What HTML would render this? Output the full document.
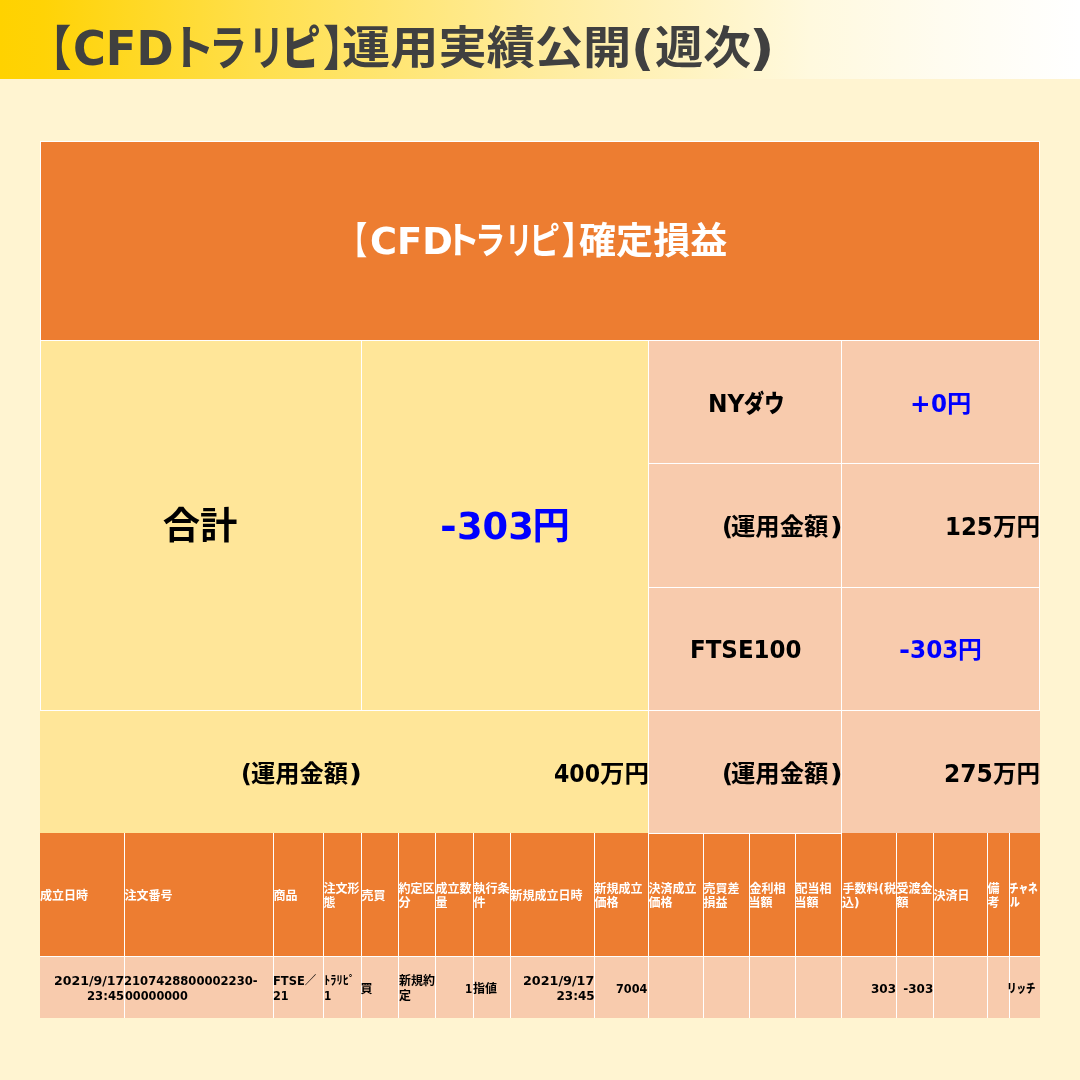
<!DOCTYPE html>
<html lang="ja">
<head>
<meta charset="utf-8">
<title>【CFDトラリピ】運用実績公開(週次)</title>
<style>
html,body{margin:0;padding:0;}
body{width:1080px;height:1080px;overflow:hidden;background:#FFF4D1;position:relative;
  font-family:"DejaVu Sans","Liberation Sans","Noto Sans CJK JP",sans-serif;font-weight:bold;color:#000;}
.abs{position:absolute;}
.hdr{left:0;top:0;width:1080px;height:79px;background:linear-gradient(90deg,#FFD200 0%,#FFD306 4%,#FFE050 25%,#FFEC9D 50%,#FFF9DE 75%,#FFFCF0 87.5%,#FFFFFF 100%);}
.grid{left:40px;top:141px;width:1000px;height:877px;background:#FFFFFF;}
.c{position:absolute;}
.or{background:#ED7D31;}
.ye{background:#FFE699;}
.pk{background:#F8CBAD;}
.t{position:absolute;white-space:nowrap;transform-origin:0 0;}
.f48{font-size:48px;line-height:64px;color:#404040;}
.f37{font-size:37.33px;line-height:50px;}
.f24{font-size:24px;line-height:32px;}
.f12{font-size:12px;line-height:14px;}
.blue{color:#0000FF;}
.w{color:#FFFFFF;}
.k9{font-weight:900;}
.f45{font-size:45px;}
</style>
</head>
<body>
<div class="abs hdr"></div>
<div class="abs grid"></div>

<div class="c or" style="left:41px;top:142px;width:998px;height:198px;"></div>
<div class="c ye" style="left:41px;top:341px;width:320px;height:369px;"></div>
<div class="c ye" style="left:362px;top:341px;width:286px;height:369px;"></div>
<div class="c ye" style="left:40px;top:711px;width:608px;height:122px;"></div>
<div class="c pk" style="left:649px;top:341px;width:192px;height:122px;"></div>
<div class="c pk" style="left:842px;top:341px;width:197px;height:122px;"></div>
<div class="c pk" style="left:649px;top:464px;width:192px;height:123px;"></div>
<div class="c pk" style="left:842px;top:464px;width:197px;height:123px;"></div>
<div class="c pk" style="left:649px;top:588px;width:192px;height:122px;"></div>
<div class="c pk" style="left:842px;top:588px;width:197px;height:122px;"></div>
<div class="c pk" style="left:649px;top:711px;width:192px;height:122px;"></div>
<div class="c pk" style="left:842px;top:711px;width:198px;height:122px;"></div>
<div class="c or" style="left:40px;top:833px;width:84px;height:123px;"></div>
<div class="c pk" style="left:40px;top:957px;width:84px;height:61px;"></div>
<div class="c or" style="left:125px;top:833px;width:148px;height:123px;"></div>
<div class="c pk" style="left:125px;top:957px;width:148px;height:61px;"></div>
<div class="c or" style="left:274px;top:833px;width:49px;height:123px;"></div>
<div class="c pk" style="left:274px;top:957px;width:49px;height:61px;"></div>
<div class="c or" style="left:324px;top:833px;width:37px;height:123px;"></div>
<div class="c pk" style="left:324px;top:957px;width:37px;height:61px;"></div>
<div class="c or" style="left:362px;top:833px;width:36px;height:123px;"></div>
<div class="c pk" style="left:362px;top:957px;width:36px;height:61px;"></div>
<div class="c or" style="left:399px;top:833px;width:36px;height:123px;"></div>
<div class="c pk" style="left:399px;top:957px;width:36px;height:61px;"></div>
<div class="c or" style="left:436px;top:833px;width:37px;height:123px;"></div>
<div class="c pk" style="left:436px;top:957px;width:37px;height:61px;"></div>
<div class="c or" style="left:474px;top:833px;width:36px;height:123px;"></div>
<div class="c pk" style="left:474px;top:957px;width:36px;height:61px;"></div>
<div class="c or" style="left:511px;top:833px;width:83px;height:123px;"></div>
<div class="c pk" style="left:511px;top:957px;width:83px;height:61px;"></div>
<div class="c or" style="left:595px;top:833px;width:53px;height:123px;"></div>
<div class="c pk" style="left:595px;top:957px;width:53px;height:61px;"></div>
<div class="c or" style="left:649px;top:834px;width:54px;height:122px;"></div>
<div class="c pk" style="left:649px;top:957px;width:54px;height:61px;"></div>
<div class="c or" style="left:704px;top:834px;width:45px;height:122px;"></div>
<div class="c pk" style="left:704px;top:957px;width:45px;height:61px;"></div>
<div class="c or" style="left:750px;top:834px;width:45px;height:122px;"></div>
<div class="c pk" style="left:750px;top:957px;width:45px;height:61px;"></div>
<div class="c or" style="left:796px;top:834px;width:45px;height:122px;"></div>
<div class="c pk" style="left:796px;top:957px;width:45px;height:61px;"></div>
<div class="c or" style="left:842px;top:833px;width:54px;height:123px;"></div>
<div class="c pk" style="left:842px;top:957px;width:54px;height:61px;"></div>
<div class="c or" style="left:897px;top:833px;width:36px;height:123px;"></div>
<div class="c pk" style="left:897px;top:957px;width:36px;height:61px;"></div>
<div class="c or" style="left:934px;top:833px;width:53px;height:123px;"></div>
<div class="c pk" style="left:934px;top:957px;width:53px;height:61px;"></div>
<div class="c or" style="left:988px;top:833px;width:21px;height:123px;"></div>
<div class="c pk" style="left:988px;top:957px;width:21px;height:61px;"></div>
<div class="c or" style="left:1010px;top:833px;width:30px;height:123px;"></div>
<div class="c pk" style="left:1010px;top:957px;width:30px;height:61px;"></div>
<div class="ln"><span id="t1" class="t f48" style="left:28.74px;top:16.20px;transform:scaleX(0.8817);">【</span><span id="t2" class="t f48" style="left:73.14px;top:16.20px;transform:scaleX(0.9320);">CFD</span><span id="t3a" class="t f48" style="left:168.56px;top:16.20px;transform:scaleX(0.9630);">ト</span><span id="t3b" class="t f48" style="left:208.80px;top:16.20px;transform:scaleX(0.7949);">ラ</span><span id="t3c" class="t f48" style="left:247.67px;top:16.20px;transform:scaleX(0.7659);">リ</span><span id="t3d" class="t f48 k9" style="left:280.78px;top:16.20px;transform:scaleX(0.8260);">ピ</span><span id="t4" class="t f48" style="left:323.13px;top:16.20px;transform:scaleX(0.8667);">】</span><span id="t5" class="t f48 f45" style="left:342.45px;top:16.60px;transform:scaleX(1.0714);">運用実績公開</span><span id="t6" class="t f48" style="left:631.22px;top:16.20px;transform:scaleX(1.0591);">(</span><span id="t7" class="t f48 f45" style="left:655.44px;top:16.60px;transform:scaleX(1.0682);">週次</span><span id="t8" class="t f48" style="left:748.85px;top:16.20px;transform:scaleX(1.1717);">)</span></div>
<div class="ln"><span id="b1" class="t f37 w" style="left:339.47px;top:216.00px;transform:scaleX(0.7542);">【</span><span id="b2" class="t f37 w" style="left:370.02px;top:216.00px;transform:scaleX(0.9876);">CFD</span><span id="b3a" class="t f37 w" style="left:443.56px;top:216.00px;transform:scaleX(0.9722);">ト</span><span id="b3b" class="t f37 w" style="left:474.53px;top:216.00px;transform:scaleX(0.8140);">ラ</span><span id="b3c" class="t f37 w" style="left:504.82px;top:216.00px;transform:scaleX(0.7403);">リ</span><span id="b3d" class="t f37 w" style="left:528.93px;top:216.00px;transform:scaleX(0.8333);">ピ</span><span id="b4" class="t f37 w" style="left:561.62px;top:216.00px;transform:scaleX(0.8333);">】</span><span id="b5" class="t f37 w" style="left:579.01px;top:216.00px;transform:scaleX(0.9932);">確定損益</span></div>
<div class="ln"><span id="s1" class="t f37" style="left:162.75px;top:501.00px;">合計</span></div>
<div class="ln"><span id="s2" class="t f37 blue" style="left:439.83px;top:501.00px;transform:scaleX(1.0833);">-</span><span id="s3" class="t f37 blue" style="left:456.78px;top:501.00px;transform:scaleX(0.9863);">303</span><span id="s4" class="t f37 blue" style="left:532.48px;top:501.00px;">円</span></div>
<div class="ln"><span id="r1a" class="t f24" style="left:707.52px;top:387.60px;transform:scaleX(0.9731);">NY</span><span id="r1b" class="t f24 k9" style="left:744.16px;top:387.60px;transform:scaleX(0.8402);">ダウ</span></div>
<div class="ln"><span id="r1c" class="t f24 blue" style="left:910.44px;top:387.60px;transform:scaleX(1.0252);">+</span><span id="r1d" class="t f24 blue" style="left:930.54px;top:387.60px;transform:scaleX(0.9603);">0</span><span id="r1e" class="t f24 blue" style="left:946.98px;top:387.60px;transform:scaleX(1.0108);">円</span></div>
<div class="ln"><span id="r2a" class="t f24" style="left:722.00px;top:511.30px;">(</span><span id="r2b" class="t f24" style="left:731.49px;top:511.30px;transform:scaleX(1.0148);">運用金額</span><span id="r2c" class="t f24" style="left:829.71px;top:511.30px;transform:scaleX(1.1429);">)</span></div>
<div class="ln"><span id="r2d" class="t f24" style="left:945.12px;top:511.30px;transform:scaleX(0.9524);">125</span><span id="r2e" class="t f24" style="left:992.50px;top:511.30px;transform:scaleX(0.9787);">万円</span></div>
<div class="ln"><span id="r4a" class="t f24" style="left:722.00px;top:757.60px;">(</span><span id="r4b" class="t f24" style="left:731.49px;top:757.60px;transform:scaleX(1.0148);">運用金額</span><span id="r4c" class="t f24" style="left:829.71px;top:757.60px;transform:scaleX(1.1429);">)</span></div>
<div class="ln"><span id="r4d" class="t f24" style="left:944.05px;top:757.60px;transform:scaleX(0.9746);">275</span><span id="r4e" class="t f24" style="left:992.50px;top:757.60px;transform:scaleX(0.9787);">万円</span></div>
<div class="ln"><span id="r3a" class="t f24" style="left:689.60px;top:633.50px;transform:scaleX(0.9575);">FTSE100</span></div>
<div class="ln"><span id="r3b" class="t f24 blue" style="left:898.89px;top:633.50px;transform:scaleX(1.1055);">-</span><span id="r3c" class="t f24 blue" style="left:910.30px;top:633.50px;transform:scaleX(0.9660);">303</span><span id="r3d" class="t f24 blue" style="left:958.02px;top:633.50px;transform:scaleX(0.9911);">円</span></div>
<div class="ln"><span id="r4f" class="t f24" style="left:240.57px;top:757.60px;transform:scaleX(0.9794);">(</span><span id="r4g" class="t f24" style="left:250.99px;top:757.60px;transform:scaleX(1.0107);">運用金額</span><span id="r4h" class="t f24" style="left:348.65px;top:757.60px;transform:scaleX(1.1770);">)</span></div>
<div class="ln"><span id="r4i" class="t f24" style="left:553.54px;top:757.60px;transform:scaleX(0.9191);">400</span><span id="r4j" class="t f24" style="left:599.98px;top:757.60px;transform:scaleX(1.0179);">万円</span></div>
<div class="ln"><span id="h0_0" class="t f12 w" style="left:40.00px;top:889.00px;">成立日時</span></div>
<div class="ln"><span id="h1_0" class="t f12 w" style="left:124.50px;top:889.00px;">注文番号</span></div>
<div class="ln"><span id="h2_0" class="t f12 w" style="left:273.50px;top:889.00px;">商品</span></div>
<div class="ln"><span id="h3_0" class="t f12 w" style="left:323.50px;top:881.80px;">注文形</span><span id="h3_1" class="t f12 w" style="left:323.50px;top:896.20px;">態</span></div>
<div class="ln"><span id="h4_0" class="t f12 w" style="left:361.50px;top:889.00px;">売買</span></div>
<div class="ln"><span id="h5_0" class="t f12 w" style="left:398.50px;top:881.80px;">約定区</span><span id="h5_1" class="t f12 w" style="left:398.50px;top:896.20px;">分</span></div>
<div class="ln"><span id="h6_0" class="t f12 w" style="left:435.50px;top:881.80px;">成立数</span><span id="h6_1" class="t f12 w" style="left:435.50px;top:896.20px;">量</span></div>
<div class="ln"><span id="h7_0" class="t f12 w" style="left:473.50px;top:881.80px;">執行条</span><span id="h7_1" class="t f12 w" style="left:473.50px;top:896.20px;">件</span></div>
<div class="ln"><span id="h8_0" class="t f12 w" style="left:510.50px;top:889.00px;">新規成立日時</span></div>
<div class="ln"><span id="h9_0" class="t f12 w" style="left:594.50px;top:881.80px;">新規成立</span><span id="h9_1" class="t f12 w" style="left:594.50px;top:896.20px;">価格</span></div>
<div class="ln"><span id="h10_0" class="t f12 w" style="left:648.50px;top:881.80px;">決済成立</span><span id="h10_1" class="t f12 w" style="left:648.50px;top:896.20px;">価格</span></div>
<div class="ln"><span id="h11_0" class="t f12 w" style="left:703.50px;top:881.80px;">売買差</span><span id="h11_1" class="t f12 w" style="left:703.50px;top:896.20px;">損益</span></div>
<div class="ln"><span id="h12_0" class="t f12 w" style="left:749.50px;top:881.80px;">金利相</span><span id="h12_1" class="t f12 w" style="left:748.50px;top:896.20px;">当額</span></div>
<div class="ln"><span id="h13_0" class="t f12 w" style="left:795.50px;top:881.80px;">配当相</span><span id="h13_1" class="t f12 w" style="left:794.50px;top:896.20px;">当額</span></div>
<div class="ln"><span id="h16_0" class="t f12 w" style="left:933.50px;top:889.00px;">決済日</span></div>
<div class="ln"><span id="h17_0" class="t f12 w" style="left:987.50px;top:881.80px;">備</span><span id="h17_1" class="t f12 w" style="left:987.50px;top:896.20px;">考</span></div>
<div class="ln"><span id="h14_0" class="t f12 w" style="left:842.50px;top:881.80px;">手数料(税</span><span id="h14_1" class="t f12 w" style="left:842.47px;top:896.20px;transform:scaleX(1.0035);">込)</span></div>
<div class="ln"><span id="h15_0" class="t f12 w" style="left:896.50px;top:881.80px;">受渡金</span><span id="h15_1" class="t f12 w" style="left:896.50px;top:896.20px;">額</span></div>
<div class="ln"><span id="h18_0" class="t f12 w k9" style="left:1008.58px;top:881.80px;transform:scaleX(0.8005);">チャネ</span><span id="h18_1" class="t f12 w k9" style="left:1009.56px;top:896.20px;transform:scaleX(0.8217);">ル</span></div>
<div class="ln"><span id="d0_0" class="t f12" style="left:53.69px;top:974.20px;transform:scaleX(1.0462);">2021/9/17</span> <span id="d0_1" class="t f12" style="left:87.03px;top:988.80px;transform:scaleX(0.9726);">23:45</span></div>
<div class="ln"><span id="d1_0" class="t f12" style="left:123.80px;top:974.20px;transform:scaleX(0.9635);">2107428800002230-</span><span id="d1_1" class="t f12" style="left:124.77px;top:988.80px;transform:scaleX(0.9395);">00000000</span></div>
<div class="ln"><span id="d2_0" class="t f12" style="left:273.05px;top:974.20px;transform:scaleX(0.9545);">FTSE／</span><span id="d2_1" class="t f12" style="left:273.07px;top:988.80px;transform:scaleX(0.9333);">21</span></div>
<div class="ln"><span id="d3_0" class="t f12" style="left:324.13px;top:974.20px;transform:scaleX(1.0414);">ﾄﾗﾘﾋﾟ</span><span id="d3_1" class="t f12" style="left:324.27px;top:988.80px;transform:scaleX(0.8682);">1</span></div>
<div class="ln"><span id="d4_0" class="t f12" style="left:360.50px;top:981.50px;">買</span></div>
<div class="ln"><span id="d5_0" class="t f12" style="left:399.00px;top:974.20px;">新規約</span><span id="d5_1" class="t f12" style="left:399.00px;top:988.80px;">定</span></div>
<div class="ln"><span id="d6_0" class="t f12" style="left:465.13px;top:981.50px;transform:scaleX(0.8715);">1</span></div>
<div class="ln"><span id="d7_0" class="t f12" style="left:473.00px;top:981.50px;">指値</span></div>
<div class="ln"><span id="d8_0" class="t f12" style="left:523.47px;top:974.20px;transform:scaleX(1.0607);">2021/9/17</span> <span id="d8_1" class="t f12" style="left:556.49px;top:988.80px;">23:45</span></div>
<div class="ln"><span id="d9_0" class="t f12" style="left:616.06px;top:981.50px;transform:scaleX(0.9380);">7004</span></div>
<div class="ln"><span id="d14_0" class="t f12" style="left:871.48px;top:981.50px;transform:scaleX(1.0019);">303</span></div>
<div class="ln"><span id="d15_0" class="t f12" style="left:903.26px;top:981.50px;">-303</span></div>
<div class="ln"><span id="d18_0" class="t f12 k9" style="left:1007.01px;top:981.50px;transform:scaleX(0.7885);">リッチ</span></div>

</body>
</html>
